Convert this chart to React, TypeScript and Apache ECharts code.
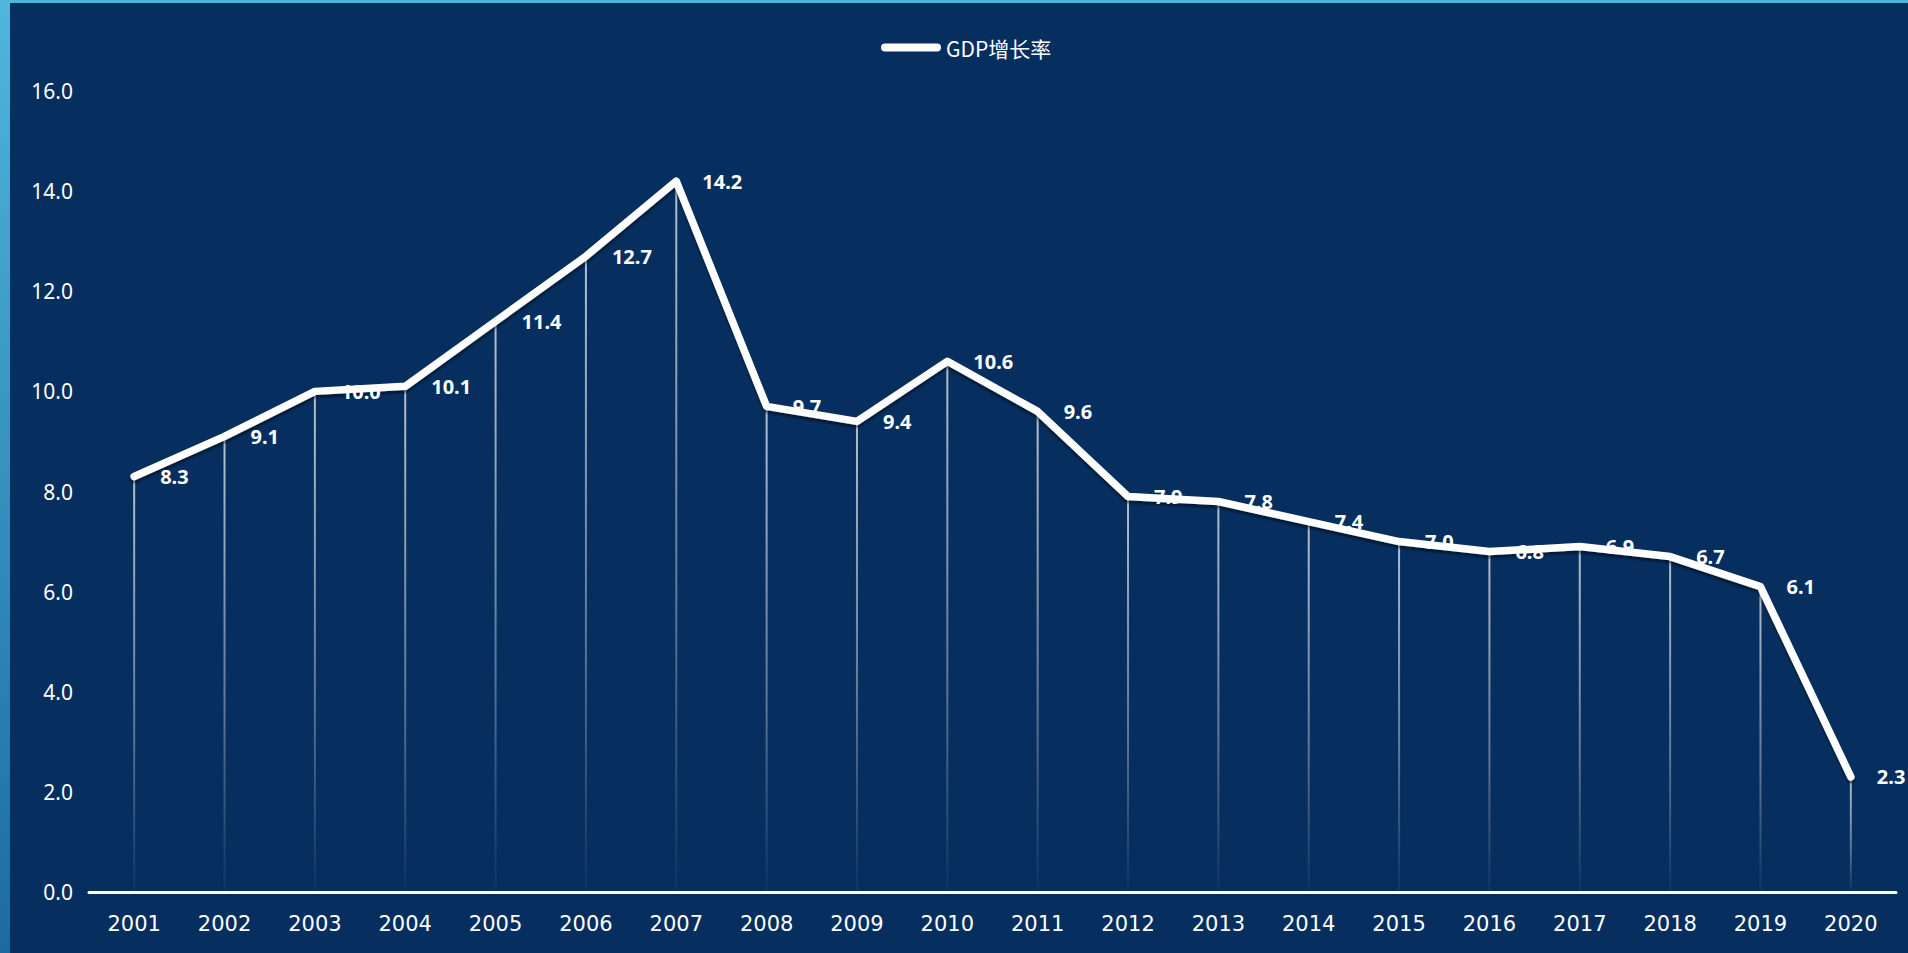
import React, { useEffect, useRef } from "react";
import * as echarts from "echarts";

const years = ["2001", "2002", "2003", "2004", "2005", "2006", "2007", "2008", "2009", "2010",
  "2011", "2012", "2013", "2014", "2015", "2016", "2017", "2018", "2019", "2020"];
const gdpGrowth = [8.3, 9.1, 10.0, 10.1, 11.4, 12.7, 14.2, 9.7, 9.4, 10.6,
  9.6, 7.9, 7.8, 7.4, 7.0, 6.8, 6.9, 6.7, 6.1, 2.3];
const seriesName = "GDP增长率";
const yMin = 0;
const yMax = 16;
const yInterval = 2;

export default function App() {
  const ref = useRef<HTMLDivElement>(null);
  useEffect(() => {
    if (!ref.current) return;
    const chart = echarts.init(ref.current, null, { renderer: "svg" });
    const font = "'Noto Sans', 'Open Sans', sans-serif";
    chart.setOption({
      animation: false,
      backgroundColor: "#062e5e",
      graphic: [
        {
          type: "rect",
          left: 0,
          top: 0,
          shape: { width: 1908, height: 3 },
          style: { fill: "#4db5dc" },
          z: 100,
        },
        {
          type: "rect",
          left: 0,
          top: 0,
          shape: { width: 10, height: 953 },
          style: {
            fill: new echarts.graphic.LinearGradient(0, 0, 0, 1, [
              { offset: 0, color: "#4fb6dd" },
              { offset: 1, color: "#1c6ba0" },
            ]),
          },
          z: 100,
        },
      ],
      legend: {
        data: [seriesName],
        left: 876,
        top: 32,
        itemWidth: 60,
        itemHeight: 22,
        textStyle: {
          color: "#ffffff",
          fontSize: 21,
          fontFamily: "'Noto Sans CJK SC', 'Noto Sans', sans-serif",
        },
        icon: "path://M4,0 L56,0 A4,4 0 0 1 56,8 L4,8 A4,4 0 0 1 4,0 Z",
        itemStyle: { color: "#ffffff" },
      },
      grid: { left: 89, right: 12, top: 91, bottom: 61, containLabel: false },
      xAxis: {
        type: "category",
        data: years,
        boundaryGap: true,
        axisLine: { show: true, lineStyle: { color: "#ffffff", width: 3 } },
        axisTick: { show: false },
        axisLabel: {
          color: "#ffffff",
          fontSize: 21,
          margin: 21,
          fontFamily: "'DejaVu Sans', sans-serif",
        },
        splitLine: { show: false },
      },
      yAxis: {
        type: "value",
        min: yMin,
        max: yMax,
        interval: yInterval,
        axisLine: { show: false },
        axisTick: { show: false },
        splitLine: { show: false },
        axisLabel: {
          color: "#ffffff",
          fontSize: 21,
          margin: 16,
          fontFamily: font,
          formatter: (v: number) => v.toFixed(1),
        },
      },
      series: [
        {
          name: "drop",
          type: "bar",
          data: gdpGrowth,
          barWidth: 2,
          silent: true,
          z: 1,
          itemStyle: {
            color: new echarts.graphic.LinearGradient(0, 0, 0, 1, [
              { offset: 0, color: "rgba(255,255,255,0.7)" },
              { offset: 0.6, color: "rgba(255,255,255,0.35)" },
              { offset: 1, color: "rgba(255,255,255,0.03)" },
            ]),
          },
        },
        {
          name: seriesName,
          type: "line",
          data: gdpGrowth,
          z: 3,
          symbol: "circle",
          symbolSize: 4,
          itemStyle: { color: "#ffffff" },
          lineStyle: {
            color: "#ffffff",
            width: 7.5,
            cap: "round",
            join: "round",
            shadowColor: "rgba(0,0,0,0.45)",
            shadowBlur: 2,
            shadowOffsetY: 3,
          },
          label: {
            show: true,
            position: "right",
            distance: 24,
            color: "#ffffff",
            fontSize: 20,
            fontWeight: "bold",
            fontFamily: font,
            formatter: (p: any) => Number(p.value).toFixed(1),
          },
        },
      ],
    });
    return () => chart.dispose();
  }, []);
  return (
    <div
      ref={ref}
      style={{ position: "absolute", left: 0, top: 0, width: 1908, height: 953 }}
    />
  );
}
